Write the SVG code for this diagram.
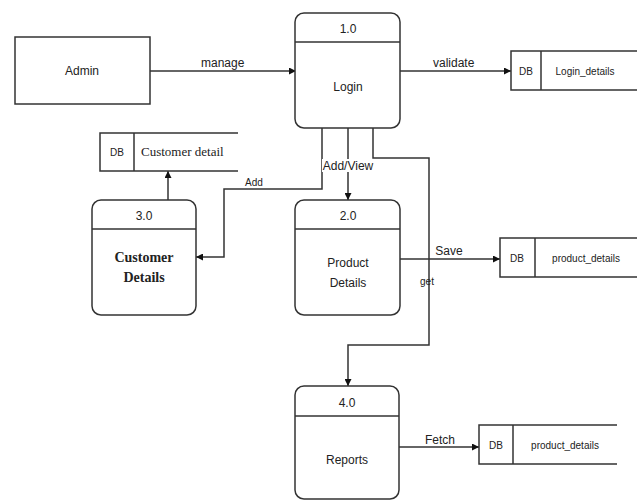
<svg xmlns="http://www.w3.org/2000/svg" width="637" height="502" viewBox="0 0 637 502">
<defs>
<marker id="arr" viewBox="0 0 10 10" refX="10" refY="5" markerWidth="7" markerHeight="7" orient="auto" markerUnits="userSpaceOnUse"><path d="M0,0 L10,5 L0,10 z" fill="#111"/></marker>
<style>
.box{fill:#fff;stroke:#333;stroke-width:1.5}
.ln{fill:none;stroke:#333;stroke-width:1.5}
.t{font-family:"Liberation Sans",Arial,sans-serif;font-size:12px;fill:#222;text-anchor:middle}
.s{font-family:"Liberation Sans",Arial,sans-serif;font-size:10px;fill:#222;text-anchor:middle}
.lb{font-family:"Liberation Sans",Arial,sans-serif;font-size:12px;fill:#222}
.sf{font-family:"Liberation Serif","Times New Roman",serif;fill:#222}
</style>
</defs>
<rect width="637" height="502" fill="#fff"/>
<g id="connectors">
<line class="ln" x1="150" y1="71" x2="296" y2="71" marker-end="url(#arr)"/>
<line class="ln" x1="400" y1="71" x2="511" y2="71" marker-end="url(#arr)"/>
<polyline class="ln" points="322,128 322,189 224,189 224,257 196,257" marker-end="url(#arr)"/>
<line class="ln" x1="348" y1="128" x2="348" y2="200" marker-end="url(#arr)"/>
<polyline class="ln" points="373,128 373,158 429,158 429,345 348,345 348,386" marker-end="url(#arr)"/>
<line class="ln" x1="168" y1="200" x2="168" y2="171" marker-end="url(#arr)"/>
<line class="ln" x1="400" y1="259" x2="500" y2="259" marker-end="url(#arr)"/>
<line class="ln" x1="399" y1="447" x2="479" y2="447" marker-end="url(#arr)"/>
<rect x="200" y="57" width="45" height="10" fill="#fff"/>
<text class="lb" x="201" y="67">manage</text>
<text class="lb" x="433" y="67">validate</text>
<text class="s" x="254" y="186" text-anchor="middle">Add</text>
<rect x="322" y="159" width="52" height="13" fill="#fff"/>
<text class="t" x="348" y="170">Add/View</text>
<rect x="436" y="246" width="26" height="10" fill="#fff"/>
<text class="t" x="449" y="255">Save</text>
<text class="s" x="427" y="285">get</text>
<rect x="424" y="434" width="32" height="11" fill="#fff"/>
<text class="t" x="440" y="444">Fetch</text>
</g>
<g id="admin">
<rect class="box" x="15" y="37" width="135" height="67"/>
<text class="t" x="82" y="75">Admin</text>
</g>
<g id="p1">
<rect class="box" x="295" y="13" width="105" height="115" rx="9"/>
<line class="ln" x1="295" y1="42" x2="400" y2="42"/>
<text class="t" x="348" y="33">1.0</text>
<text class="t" x="348" y="91">Login</text>
</g>
<g id="p2">
<rect class="box" x="295" y="200" width="105" height="115" rx="9"/>
<line class="ln" x1="295" y1="229" x2="400" y2="229"/>
<text class="t" x="348" y="220">2.0</text>
<text class="t" x="348" y="267">Product</text>
<text class="t" x="348" y="287">Details</text>
</g>
<g id="p3">
<rect class="box" x="92" y="200" width="104" height="115" rx="9"/>
<line class="ln" x1="92" y1="229" x2="196" y2="229"/>
<text class="t" x="144" y="220">3.0</text>
<text class="sf" x="144" y="262" font-size="14" font-weight="bold" text-anchor="middle">Customer</text>
<text class="sf" x="144" y="282" font-size="14" font-weight="bold" text-anchor="middle">Details</text>
</g>
<g id="p4">
<rect class="box" x="295" y="386" width="104" height="113" rx="9"/>
<line class="ln" x1="295" y1="416" x2="399" y2="416"/>
<text class="t" x="347" y="407">4.0</text>
<text class="t" x="347" y="464">Reports</text>
</g>
<g id="ds_login">
<polyline class="ln" points="637,51 511,51 511,90 637,90"/>
<line class="ln" x1="541" y1="51" x2="541" y2="90"/>
<text class="s" x="526" y="75">DB</text>
<text class="s" x="585" y="75">Login_details</text>
</g>
<g id="ds_customer">
<polyline class="ln" points="238,133 100,133 100,171 238,171"/>
<line class="ln" x1="134" y1="133" x2="134" y2="171"/>
<text class="s" x="117" y="156">DB</text>
<text class="sf" x="141" y="156" font-size="13">Customer detail</text>
</g>
<g id="ds_product1">
<polyline class="ln" points="637,238 500,238 500,277 637,277"/>
<line class="ln" x1="535" y1="238" x2="535" y2="277"/>
<text class="s" x="517" y="262">DB</text>
<text class="s" x="586" y="262">product_details</text>
</g>
<g id="ds_product2">
<polyline class="ln" points="617,425 479,425 479,464 617,464"/>
<line class="ln" x1="513" y1="425" x2="513" y2="464"/>
<text class="s" x="496" y="449">DB</text>
<text class="s" x="565" y="449">product_details</text>
</g>
</svg>
